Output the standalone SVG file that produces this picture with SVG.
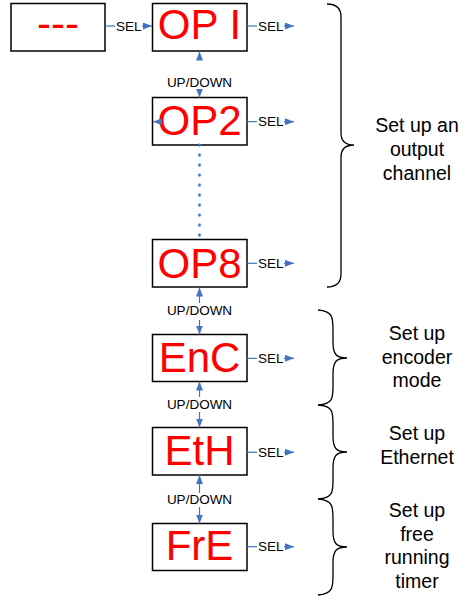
<svg xmlns="http://www.w3.org/2000/svg" width="462" height="596" viewBox="0 0 462 596">
<style>
.box{fill:#fff;stroke:#000;stroke-width:1.5}
.big{font-family:"Liberation Sans",Arial,sans-serif;font-size:42px;fill:#ff0000;text-anchor:middle}
.lbl{font-family:"Liberation Sans",Arial,sans-serif;font-size:13.5px;fill:#000}
.mid{text-anchor:middle}
.con{stroke:#4472c4;stroke-width:1.2;fill:none;marker-end:url(#ah)}
.dot{stroke:#4472c4;stroke-width:2.8;fill:none;stroke-linecap:round;stroke-dasharray:0.3 9.7}
.brace{stroke:#000;stroke-width:1.3;fill:none}
.note{font-family:"Liberation Sans",Arial,sans-serif;font-size:19.5px;fill:#000;text-anchor:middle}
</style>
<defs>
<marker id="ah" markerUnits="userSpaceOnUse" markerWidth="9" markerHeight="7" refX="9" refY="3.5" orient="auto">
<path d="M0,0 L9,3.5 L0,7 z" fill="#4472c4"/>
</marker>
</defs>
<rect width="462" height="596" fill="#fff"/>

<g id="node-start"><rect class="box" x="11" y="3.5" width="94" height="47.5"/><text class="big" x="58" y="38">---</text></g>
<g id="node-op1"><rect class="box" x="152.5" y="3.5" width="94.5" height="47.5"/><text class="big" x="199.5" y="38.5">OP I</text></g>
<g id="node-op2"><rect class="box" x="152.5" y="97.5" width="94.5" height="47.5"/><text class="big" x="199.5" y="134.5">OP2</text></g>
<g id="node-op8"><rect class="box" x="152.5" y="239.5" width="94.5" height="47.5"/><text class="big" x="199.5" y="277.5">OP8</text></g>
<g id="node-enc"><rect class="box" x="152.5" y="334.5" width="94.5" height="47"/><text class="big" x="199.5" y="372">EnC</text></g>
<g id="node-eth"><rect class="box" x="152.5" y="427.5" width="94.5" height="47.5"/><text class="big" x="199.5" y="465">EtH</text></g>
<g id="node-fre"><rect class="box" x="152.5" y="523.5" width="94.5" height="47"/><text class="big" x="199.5" y="560">FrE</text></g>

<g id="connectors">
<line x1="105" y1="26" x2="115" y2="26" stroke="#4472c4" stroke-width="1.2"/>
<text class="lbl" x="116" y="30.5">SEL</text>
<line class="con" x1="142" y1="26" x2="152" y2="26"/>

<line x1="247" y1="26" x2="257" y2="26" stroke="#4472c4" stroke-width="1.2"/>
<text class="lbl" x="258" y="30.5">SEL</text>
<line class="con" x1="284" y1="26" x2="294" y2="26"/>

<line x1="247" y1="121.7" x2="257" y2="121.7" stroke="#4472c4" stroke-width="1.2"/>
<text class="lbl" x="258" y="126.2">SEL</text>
<line class="con" x1="284" y1="121.7" x2="294" y2="121.7"/>

<line x1="247" y1="263.3" x2="257" y2="263.3" stroke="#4472c4" stroke-width="1.2"/>
<text class="lbl" x="258" y="267.8">SEL</text>
<line class="con" x1="284" y1="263.3" x2="294" y2="263.3"/>

<line x1="247" y1="358.3" x2="257" y2="358.3" stroke="#4472c4" stroke-width="1.2"/>
<text class="lbl" x="258" y="362.8">SEL</text>
<line class="con" x1="284" y1="358.3" x2="294" y2="358.3"/>

<line x1="247" y1="452.3" x2="257" y2="452.3" stroke="#4472c4" stroke-width="1.2"/>
<text class="lbl" x="258" y="456.8">SEL</text>
<line class="con" x1="284" y1="452.3" x2="294" y2="452.3"/>

<line x1="247" y1="546.7" x2="257" y2="546.7" stroke="#4472c4" stroke-width="1.2"/>
<text class="lbl" x="258" y="551.2">SEL</text>
<line class="con" x1="284" y1="546.7" x2="294" y2="546.7"/>

<line class="con" x1="199.5" y1="60" x2="199.5" y2="51.5"/>
<text class="lbl mid" x="199.5" y="86.7">UP/DOWN</text>
<line class="con" x1="199.5" y1="89" x2="199.5" y2="97.5"/>
<line class="con" x1="162" y1="121.7" x2="153" y2="121.7"/>
<line class="dot" x1="199.5" y1="145" x2="199.5" y2="237"/>
<line class="con" x1="199.5" y1="303" x2="199.5" y2="287.5"/>
<text class="lbl mid" x="199.5" y="315">UP/DOWN</text>
<line class="con" x1="199.5" y1="320" x2="199.5" y2="334.5"/>
<line class="con" x1="199.5" y1="397" x2="199.5" y2="381.5"/>
<text class="lbl mid" x="199.5" y="409">UP/DOWN</text>
<line class="con" x1="199.5" y1="412" x2="199.5" y2="427.5"/>
<line class="con" x1="199.5" y1="493" x2="199.5" y2="475"/>
<text class="lbl mid" x="199.5" y="504.3">UP/DOWN</text>
<line class="con" x1="199.5" y1="507" x2="199.5" y2="523.5"/>
</g>

<g id="brace-output">
<path class="brace" d="M327,4 Q341,4 341,17 L341,133 Q341,145 354,145 Q341,145 341,157 L341,274 Q341,287 327,287"/>
<text class="note" x="417" y="132">Set up an</text>
<text class="note" x="417" y="156">output</text>
<text class="note" x="417" y="180">channel</text>
</g>
<g id="brace-encoder">
<path class="brace" d="M318,310 C333,311 333,318 333,330 L333,342 C333,354 336,358 347,358 C336,358 333,362 333,374 L333,386 C333,398 333,404 318,405"/>
<text class="note" x="417" y="340">Set up</text>
<text class="note" x="417" y="363.5">encoder</text>
<text class="note" x="417" y="387">mode</text>
</g>
<g id="brace-ethernet">
<path class="brace" d="M318,405 C333,406 333,412 333,424 L333,436 C333,448 336,452 347,452 C336,452 333,456 333,468 L333,480 C333,492 333,498 318,499"/>
<text class="note" x="417" y="440">Set up</text>
<text class="note" x="417" y="463.5">Ethernet</text>
</g>
<g id="brace-timer">
<path class="brace" d="M318,499 C333,500 333,507 333,519 L333,531 C333,543 336,547 347,547 C336,547 333,551 333,563 L333,575 C333,587 333,594 318,595"/>
<text class="note" x="417" y="517">Set up</text>
<text class="note" x="417" y="540.5">free</text>
<text class="note" x="417" y="564">running</text>
<text class="note" x="417" y="587.5">timer</text>
</g>
</svg>
